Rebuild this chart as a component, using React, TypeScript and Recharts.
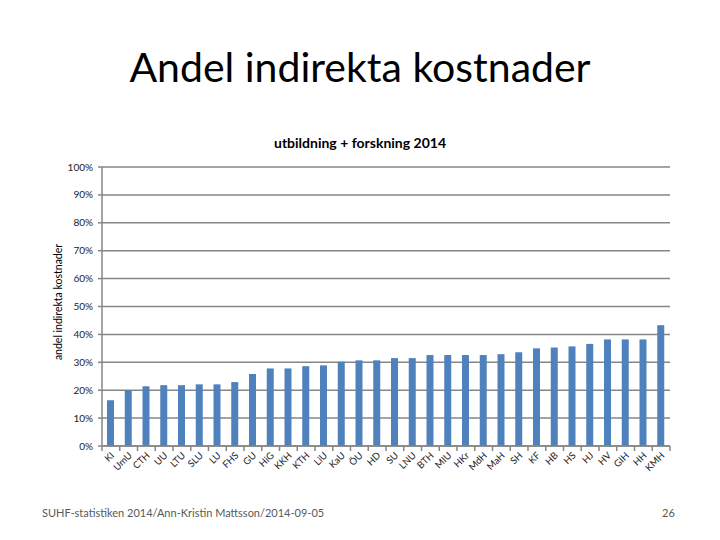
import React from 'react';
import { BarChart, Bar, XAxis, YAxis, CartesianGrid } from 'recharts';

const schools = [
  'KI', 'UmU', 'CTH', 'UU', 'LTU', 'SLU', 'LU', 'FHS', 'GU', 'HiG', 'KKH',
  'KTH', 'LiU', 'KaU', 'ÖU', 'HD', 'SU', 'LNU', 'BTH', 'MIU', 'HKr', 'MdH',
  'MaH', 'SH', 'KF', 'HB', 'HS', 'HJ', 'HV', 'GIH', 'HH', 'KMH',
];

const shares = [
  0.164, 0.2, 0.214, 0.218, 0.218, 0.221, 0.221, 0.229, 0.258, 0.278, 0.278,
  0.286, 0.289, 0.302, 0.307, 0.307, 0.315, 0.315, 0.326, 0.326, 0.326, 0.326,
  0.329, 0.336, 0.35, 0.353, 0.357, 0.366, 0.382, 0.382, 0.382, 0.433,
];

const yTicks = [0, 0.1, 0.2, 0.3, 0.4, 0.5, 0.6, 0.7, 0.8, 0.9, 1];

const W = 720;
const H = 540;
const PLOT_LEFT = 102;
const PLOT_RIGHT = 50;
const FONT = 'Lato, "Open Sans", sans-serif';
const GRID = '#868686';

const data = schools.map((name, i) => ({ name, value: shares[i] }));
const band = (W - PLOT_LEFT - PLOT_RIGHT) / schools.length;

function XTick(props: any) {
  const { x, y, payload, index } = props;
  return (
    <g transform={`translate(${x},${y})`}>
      {index === 0 && <line x1={-band / 2} y1={0} x2={-band / 2} y2={5} stroke={GRID} strokeWidth={1.5} />}
      <line x1={band / 2} y1={0} x2={band / 2} y2={5} stroke={GRID} strokeWidth={1.5} />
      <text
        x={0}
        y={0}
        transform="translate(4,10) rotate(-45)"
        textAnchor="end"
        fontSize={9.5}
        fontFamily={FONT}
        fill="#222"
      >
        {payload.value}
      </text>
    </g>
  );
}

export default function App() {
  return (
    <div style={{ position: 'absolute', left: 0, top: 0, width: W, height: H, background: '#fff', fontFamily: FONT }}>
      <div style={{ position: 'absolute', left: 0, width: W, top: 42, textAlign: 'center', fontSize: 41, color: '#000' }}>
        Andel indirekta kostnader
      </div>
      <div style={{ position: 'absolute', left: 0, width: W, top: 134, textAlign: 'center', fontSize: 14, fontWeight: 700, color: '#000' }}>
        utbildning + forskning 2014
      </div>
      <div
        style={{
          position: 'absolute',
          left: 58,
          top: 302,
          transform: 'translate(-50%, -50%) rotate(-90deg)',
          fontSize: 10.5,
          whiteSpace: 'nowrap',
          color: '#000',
        }}
      >
        andel indirekta kostnader
      </div>
      <BarChart
        width={W}
        height={H}
        data={data}
        margin={{ top: 167, right: PLOT_RIGHT, left: PLOT_LEFT - 50, bottom: 54 }}
        style={{ position: 'absolute', left: 0, top: 0 }}
      >
        <CartesianGrid vertical={false} stroke={GRID} strokeWidth={1.5} />
        <XAxis
          dataKey="name"
          interval={0}
          height={40}
          tickSize={0}
          tickMargin={0}
          tickLine={false}
          axisLine={{ stroke: GRID, strokeWidth: 1.5 }}
          tick={<XTick />}
        />
        <YAxis
          width={50}
          domain={[0, 1]}
          ticks={yTicks}
          interval={0}
          tickFormatter={(v: number) => `${Math.round(v * 100)}%`}
          tick={{ fontSize: 10, fill: '#222', fontFamily: FONT }}
          tickSize={4}
          tickMargin={5}
          tickLine={{ stroke: GRID, strokeWidth: 1.5 }}
          axisLine={{ stroke: GRID, strokeWidth: 1.5 }}
        />
        <Bar dataKey="value" fill="#4F81BD" barSize={7} isAnimationActive={false} />
      </BarChart>
      <div style={{ position: 'absolute', left: 42, top: 506, fontSize: 11, color: '#595959' }}>
        SUHF-statistiken 2014/Ann-Kristin Mattsson/2014-09-05
      </div>
      <div style={{ position: 'absolute', left: 662, top: 506, fontSize: 11, color: '#595959' }}>26</div>
    </div>
  );
}
